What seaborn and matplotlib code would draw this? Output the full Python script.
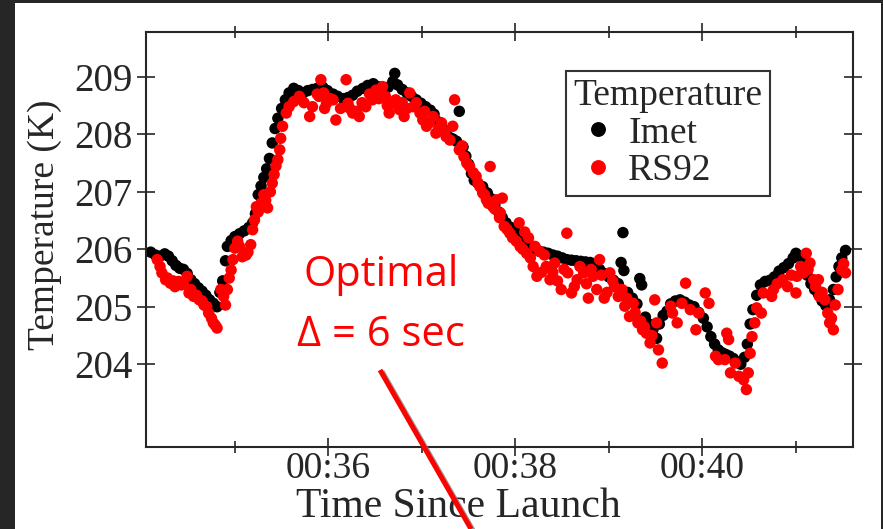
import numpy as np
import pandas as pd
import matplotlib
matplotlib.use("Agg")
import matplotlib.pyplot as plt
import matplotlib.ticker as mticker
import matplotlib.patheffects as pe
from matplotlib.lines import Line2D
from matplotlib.patches import Rectangle
import seaborn as sns

# time since launch (minutes) and temperature (K)
imet_time = [
    34.10, 34.15, 34.20, 34.25, 34.29, 34.33, 34.37, 34.41, 34.45, 34.49,
    34.53, 34.57, 34.61, 34.65, 34.69, 34.73, 34.77, 34.81, 34.84, 34.87,
    34.90, 34.92, 34.96, 35.00, 35.05, 35.10, 35.15, 35.19, 35.22, 35.25,
    35.28, 35.31, 35.34, 35.37, 35.40, 35.43, 35.46, 35.50, 35.54, 35.58,
    35.63, 35.68, 35.73, 35.78, 35.83, 35.88, 35.94, 35.99, 36.05, 36.10,
    36.16, 36.21, 36.26, 36.31, 36.37, 36.42, 36.48, 36.53, 36.58, 36.64,
    36.69, 36.71, 36.74, 36.79, 36.84, 36.89, 36.94, 36.99, 37.04, 37.09,
    37.13, 37.17, 37.21, 37.25, 37.29, 37.33, 37.37, 37.40, 37.44, 37.47,
    37.50, 37.53, 37.56, 37.60, 37.65, 37.70, 37.74, 37.78, 37.82, 37.86,
    37.90, 37.95, 38.00, 38.05, 38.10, 38.15, 38.20, 38.25, 38.30, 38.35,
    38.40, 38.45, 38.50, 38.55, 38.60, 38.65, 38.70, 38.75, 38.80, 38.85,
    38.90, 38.95, 39.00, 39.05, 39.10, 39.13, 39.15, 39.16, 39.20, 39.25,
    39.30, 39.33, 39.35, 39.39, 39.43, 39.47, 39.51, 39.54, 39.58, 39.62,
    39.66, 39.71, 39.76, 39.81, 39.86, 39.91, 39.96, 40.01, 40.05, 40.09,
    40.13, 40.17, 40.21, 40.25, 40.29, 40.33, 40.37, 40.41, 40.45, 40.48,
    40.51, 40.54, 40.58, 40.62, 40.67, 40.72, 40.77, 40.82, 40.87, 40.92,
    40.97, 41.00, 41.04, 41.08, 41.12, 41.16, 41.20, 41.24, 41.28, 41.32,
    41.36, 41.40, 41.43, 41.46, 41.49, 41.53,
]
imet_temp = [
    205.95, 205.90, 205.88, 205.92, 205.88, 205.80, 205.72, 205.67, 205.65, 205.58,
    205.47, 205.40, 205.33, 205.27, 205.20, 205.12, 205.06, 205.00, 205.25, 205.45,
    205.80, 206.05, 206.15, 206.22, 206.27, 206.32, 206.38, 206.46, 206.62, 206.95,
    207.10, 207.25, 207.40, 207.58, 207.85, 208.10, 208.28, 208.45, 208.60, 208.72,
    208.80, 208.76, 208.72, 208.76, 208.78, 208.80, 208.82, 208.76, 208.70, 208.66,
    208.62, 208.64, 208.68, 208.75, 208.80, 208.85, 208.88, 208.83, 208.78, 208.82,
    208.92, 209.06, 208.86, 208.78, 208.72, 208.66, 208.60, 208.54, 208.48, 208.42,
    208.35, 208.22, 208.12, 208.02, 207.95, 207.92, 207.88, 208.40, 207.78, 207.62,
    207.48, 207.32, 207.20, 207.15, 207.09, 206.98, 206.88, 206.78, 206.65, 206.55,
    206.46, 206.38, 206.30, 206.22, 206.15, 206.08, 206.02, 205.97, 205.95, 205.93,
    205.90, 205.88, 205.85, 205.82, 205.81, 205.80, 205.79, 205.78, 205.77, 205.72,
    205.65, 205.58, 205.52, 205.46, 205.40, 205.77, 206.29, 205.63, 205.25, 205.15,
    205.05, 205.49, 205.38, 204.82, 204.70, 204.60, 204.45, 204.70, 204.85, 204.92,
    205.05, 205.10, 205.12, 205.08, 205.03, 205.00, 204.90, 204.80, 204.65, 204.48,
    204.35, 204.25, 204.20, 204.17, 204.14, 204.10, 204.04, 204.00, 204.12, 204.35,
    204.70, 204.95, 205.20, 205.38, 205.44, 205.46, 205.52, 205.62, 205.68, 205.75,
    205.85, 205.93, 205.88, 205.76, 205.55, 205.40, 205.30, 205.22, 205.10, 205.02,
    205.12, 205.30, 205.52, 205.70, 205.85, 205.98,
]

rs92_time = [
    34.17, 34.20, 34.22, 34.26, 34.31, 34.36, 34.40, 34.45, 34.49, 34.51,
    34.56, 34.62, 34.67, 34.72, 34.77, 34.81, 34.85, 34.88, 34.90, 34.92,
    34.94, 34.96, 34.98, 35.00, 35.03, 35.08, 35.12, 35.17, 35.19, 35.21,
    35.23, 35.28, 35.31, 35.35, 35.38, 35.42, 35.46, 35.48, 35.49, 35.51,
    35.55, 35.58, 35.63, 35.69, 35.74, 35.80, 35.83, 35.90, 35.92, 35.95,
    35.98, 36.05, 36.08, 36.13, 36.19, 36.21, 36.26, 36.33, 36.40, 36.47,
    36.51, 36.58, 36.61, 36.65, 36.69, 36.76, 36.81, 36.87, 36.91, 36.98,
    37.01, 37.05, 37.12, 37.15, 37.21, 37.26, 37.33, 37.35, 37.40, 37.45,
    37.51, 37.55, 37.58, 37.62, 37.65, 37.69, 37.73, 37.76, 37.80, 37.84,
    37.86, 37.88, 37.94, 38.01, 38.04, 38.05, 38.12, 38.14, 38.19, 38.23,
    38.26, 38.33, 38.37, 38.42, 38.49, 38.55, 38.56, 38.60, 38.66, 38.73,
    38.78, 38.83, 38.90, 38.95, 39.01, 39.06, 39.10, 39.17, 39.22, 39.26,
    39.31, 39.36, 39.40, 39.44, 39.49, 39.51, 39.53, 39.57, 39.66, 39.68,
    39.73, 39.78, 39.82, 39.87, 39.93, 39.96, 40.03, 40.07, 40.14, 40.17,
    40.24, 40.26, 40.28, 40.30, 40.35, 40.39, 40.44, 40.47, 40.49, 40.51,
    40.53, 40.56, 40.58, 40.63, 40.65, 40.74, 40.76, 40.86, 40.91, 41.00,
    41.01, 41.08, 41.11, 41.15, 41.19, 41.24, 41.25, 41.31, 41.34, 41.36,
    41.40, 41.42, 41.49, 41.53,
    # denser stretches of the RS92 scatter
    34.28, 34.34, 34.43, 34.53, 34.59, 34.65, 34.70, 34.75, 34.79, 35.05,
    35.14, 35.25, 35.33, 35.40, 35.44, 35.88, 35.96, 36.02, 36.23, 36.30,
    36.36, 36.44, 36.54, 36.63, 36.72, 36.79, 36.84, 36.94, 37.03, 37.08,
    37.18, 37.24, 37.30, 37.43, 37.48, 37.60, 37.67, 37.71, 37.78, 37.83,
    37.91, 37.97, 38.08, 38.10, 38.16, 38.21, 38.28, 38.31, 38.40, 38.45,
    38.52, 38.63, 38.69, 38.76, 38.81, 38.87, 38.92, 38.98, 39.04, 39.14,
    39.19, 39.28, 39.34, 39.38, 39.46, 40.80, 40.95, 41.05, 41.13, 41.21,
    41.28, 41.38, 41.45, 41.51,
]
rs92_temp = [
    205.82, 205.70, 205.59, 205.47, 205.41, 205.35, 205.44, 205.40, 205.53, 205.24,
    205.18, 205.12, 205.03, 204.89, 204.72, 204.63, 205.30, 205.18, 205.03, 205.30,
    205.50, 205.64, 205.82, 206.02, 206.14, 205.87, 205.90, 206.08, 206.34, 206.51,
    206.74, 206.80, 206.95, 206.72, 207.00, 207.30, 207.56, 207.73, 207.93, 208.14,
    208.37, 208.48, 208.57, 208.66, 208.55, 208.31, 208.48, 208.66, 208.95, 208.72,
    208.54, 208.60, 208.25, 208.45, 208.95, 208.54, 208.37, 208.31, 208.48, 208.60,
    208.77, 208.83, 208.66, 208.37, 208.54, 208.43, 208.31, 208.72, 208.48, 208.37,
    208.25, 208.14, 208.31, 208.02, 208.20, 207.96, 208.14, 208.60, 207.73, 207.61,
    207.44, 207.33, 207.27, 207.09, 206.98, 206.86, 207.44, 206.74, 206.86, 206.63,
    206.89, 206.40, 206.28, 206.14, 206.46, 206.05, 205.93, 206.20, 205.70, 205.53,
    205.96, 205.70, 205.47, 205.76, 205.30, 206.28, 205.59, 205.24, 205.47, 205.59,
    205.15, 205.53, 205.82, 205.15, 205.59, 205.35, 205.18, 205.01, 204.83, 205.06,
    204.72, 204.60, 204.54, 204.37, 205.12, 204.72, 204.25, 204.02, 205.01, 204.89,
    204.72, 205.06, 205.41, 204.95, 204.60, 204.89, 205.24, 205.06, 204.14, 204.08,
    204.08, 204.54, 204.43, 203.85, 204.02, 203.79, 203.73, 203.56, 203.85, 204.19,
    204.48, 204.72, 204.98, 204.89, 205.24, 205.18, 205.30, 205.47, 205.35, 205.24,
    205.53, 205.59, 205.93, 205.76, 205.47, 205.47, 205.18, 205.12, 204.89, 204.72,
    204.60, 205.03, 205.64, 205.59,
    205.50, 205.45, 205.38, 205.30, 205.20, 205.10, 205.00, 204.80, 204.68, 206.05,
    205.95, 206.65, 206.85, 207.15, 207.45, 208.70, 208.45, 208.62, 208.45, 208.40,
    208.55, 208.70, 208.62, 208.50, 208.60, 208.55, 208.45, 208.55, 208.40, 208.20,
    208.10, 208.05, 207.90, 207.80, 207.50, 207.15, 206.95, 206.80, 206.70, 206.55,
    206.35, 206.20, 206.00, 206.30, 205.85, 206.05, 205.60, 205.90, 205.60, 205.45,
    205.65, 205.35, 205.70, 205.40, 205.65, 205.30, 205.55, 205.25, 205.45, 205.30,
    205.15, 204.90, 204.75, 204.65, 204.50, 205.40, 205.55, 205.70, 205.65, 205.35,
    205.25, 204.80, 205.30, 205.75,
]
temp_ticks = [204, 205, 206, 207, 208, 209]

df = pd.concat([
    pd.DataFrame({"time": imet_time, "temp": imet_temp, "sensor": "Imet"}),
    pd.DataFrame({"time": rs92_time, "temp": rs92_temp, "sensor": "RS92"}),
])

sns.set_style("ticks")
plt.rcParams["font.family"] = ["Liberation Serif", "DejaVu Serif"]

fig = plt.figure(figsize=(8.83, 5.29), dpi=100, facecolor="#262626")
# white slide panel behind the chart
fig.patches.append(Rectangle((15 / 883, 0), 866 / 883, 1 - 3 / 529,
                             transform=fig.transFigure, facecolor="white",
                             edgecolor="none", zorder=-5))
ax = fig.add_axes([146 / 883, 1 - 447 / 529, 707 / 883, 415 / 529])
ax.set_zorder(1)

sns.scatterplot(data=df, x="time", y="temp", hue="sensor",
                palette={"Imet": "black", "RS92": "red"},
                s=68, linewidth=0, ax=ax)

ax.set_xlim(34.05, 41.61)
ax.set_ylim(202.56, 209.78)
ax.xaxis.set_major_locator(mticker.MultipleLocator(2))
ax.xaxis.set_minor_locator(mticker.MultipleLocator(1))
ax.xaxis.set_major_formatter(mticker.FuncFormatter(lambda v, p: "00:%02d" % round(v)))
ax.yaxis.set_major_locator(mticker.FixedLocator(temp_ticks))
ax.yaxis.set_minor_locator(mticker.NullLocator())

for sp in ax.spines.values():
    sp.set_linewidth(1.5)
ax.tick_params(which="both", direction="inout", top=True, right=True,
               width=1.2, labelsize=27)
ax.tick_params(axis="y", labelsize=28, pad=3)
ax.tick_params(axis="x", pad=-3.5)
ax.tick_params(which="major", length=13)
ax.tick_params(which="minor", length=8)

ax.set_xlabel("Time Since Launch", fontsize=30, va="center")
ax.set_ylabel("Temperature (K)", fontsize=27, va="center")
ax.xaxis.set_label_coords((458 - 146) / 707, (447 - 507) / 415)
ax.yaxis.set_label_coords((45 - 146) / 707, (447 - 225) / 415)

leg = ax.legend(title="Temperature", loc="upper right",
                bbox_to_anchor=(0.883, 0.906), fontsize=27, title_fontsize=27,
                frameon=True, fancybox=False, markerscale=1.3,
                handletextpad=0.15, borderpad=0.2, labelspacing=0.08,
                handlelength=1.3, borderaxespad=0)
leg.get_frame().set_edgecolor("black")
leg.get_frame().set_linewidth(1.5)
leg._legend_box.align = "left"

# annotation
fig.text(381 / 883, 1 - 275 / 529, "Optimal", color="red", fontsize=30,
         family=["Open Sans", "DejaVu Sans"], ha="center", va="center", zorder=3)
fig.text(381 / 883, 1 - 335 / 529, "\u0394 = 6 sec", color="red", fontsize=30,
         family=["Open Sans", "DejaVu Sans"], ha="center", va="center", zorder=3)
arrow = Line2D([380 / 883, 471 / 883], [1 - 370 / 529, 1 - 529 / 529],
               transform=fig.transFigure, color="red", linewidth=3.6,
               solid_capstyle="butt", zorder=3,
               path_effects=[pe.SimpleLineShadow(offset=(1.5, -1.0), shadow_color="gray", alpha=0.8),
                             pe.Normal()])
fig.lines.append(arrow)

fig.savefig("out.png", dpi=100, facecolor=fig.get_facecolor())
